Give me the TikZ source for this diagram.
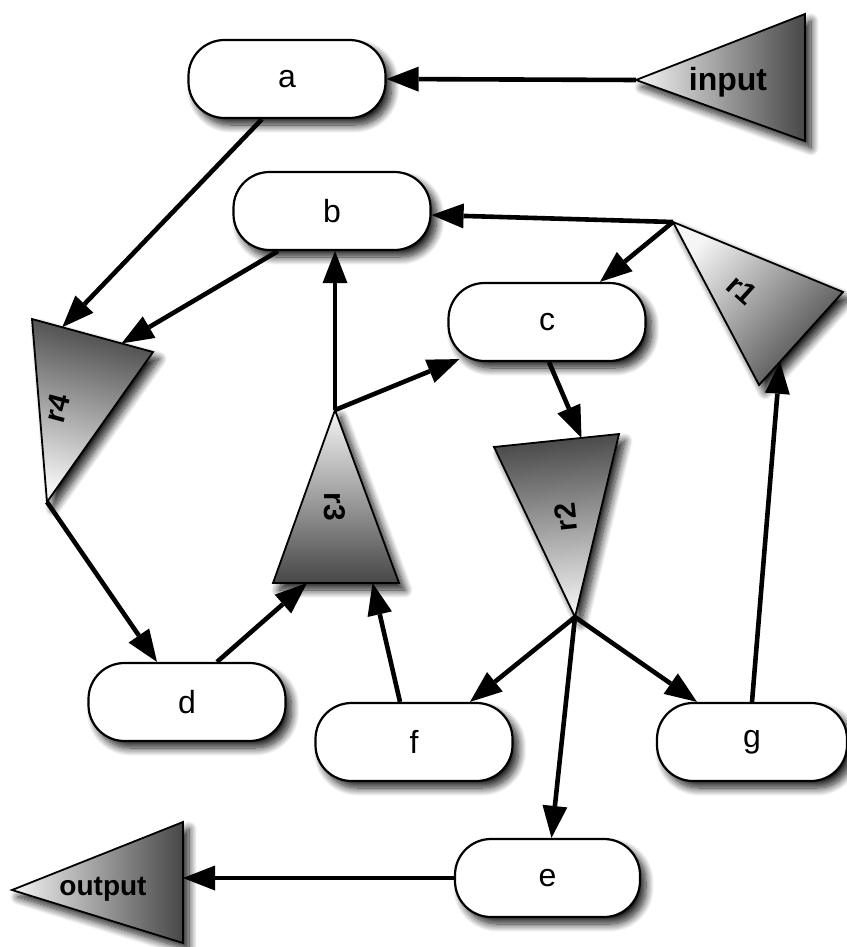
\documentclass[tikz,border=0pt]{standalone}
\usepackage{fontspec}
\setmainfont{Liberation Sans}
\usetikzlibrary{arrows.meta,calc,shadows.blur}
\tikzset{
  shad/.style={blur shadow={shadow xshift=6pt, shadow yshift=-7pt, shadow blur radius=8pt, shadow blur steps=14, shadow opacity=90}},
  box/.style={draw, line width=2.2pt, fill=white, rounded corners=36pt, minimum width=197pt, minimum height=78pt, inner sep=0pt, font=\fontsize{32}{36}\selectfont, shad},
  tri/.style={draw, line width=1.8pt, line join=miter, top color=black!72, bottom color=white!96!black, shad},
  trilabel/.style={font=\bfseries\fontsize{30}{34}\selectfont, inner sep=0pt},
  conn/.style={line width=4.6pt, -{Triangle[length=32pt,width=25pt,fill=black,line width=0pt]}},
}
\begin{document}
\begin{tikzpicture}[x=1pt,y=-1pt]
\useasboundingbox (0,0) rectangle (846,947);
% triangle vertices
\coordinate (inT) at (636,80);  \coordinate (inA) at (805,14);  \coordinate (inB) at (805,141);
\coordinate (outT) at (12,890); \coordinate (outA) at (183,822); \coordinate (outB) at (183,943);
\coordinate (r1T) at (673,222); \coordinate (r1A) at (843,292); \coordinate (r1B) at (759,385);
\coordinate (r2T) at (575,617); \coordinate (r2A) at (494,447); \coordinate (r2B) at (619,434);
\coordinate (r3T) at (335,410); \coordinate (r3A) at (273,583); \coordinate (r3B) at (399,583);
\coordinate (r4T) at (47,502);  \coordinate (r4A) at (32,319);  \coordinate (r4B) at (153,352);
% triangles
\path[tri, shading angle=-90]  (inT) -- (inA) -- (inB) -- cycle;
\path[tri, shading angle=-90]  (outT) -- (outA) -- (outB) -- cycle;
\path[tri, shading angle=-132] (r1T) -- (r1A) -- (r1B) -- cycle;
\path[tri, shading angle=6]    (r2T) -- (r2A) -- (r2B) -- cycle;
\path[tri, shading angle=-180] (r3T) -- (r3A) -- (r3B) -- cycle;
\path[tri, shading angle=-15]  (r4T) -- (r4A) -- (r4B) -- cycle;
\node[trilabel, font=\bfseries\fontsize{32}{36}\selectfont] (inL) at (728,82) {input};
\node[trilabel, font=\bfseries\fontsize{28}{32}\selectfont] (outL) at (103,889) {output};
\node[trilabel, rotate=-42] (r1L) at (742,290) {r1};
\node[trilabel, rotate=96] (r2L) at (566,517) {r2};
\node[trilabel, rotate=-90] (r3L) at (335,507) {r3};
\node[trilabel, rotate=75] (r4L) at (57,408) {r4};
% boxes
\node[box] (a) at (287,79) {a};
\node[box] (b) at (332,211) {b};
\node[box] (c) at (547,322) {c};
\node[box] (d) at (187,702) {d};
\node[box] (f) at (414,742) {f};
\node[box, minimum width=190pt] (g) at (752,742) {g};
\node[box, minimum width=185pt] (e) at (547.5,878) {e};
% connectors
\draw[conn] (inT) -- (a.east);
\draw[conn] ($(a.south)+(-25,0)$) -- ($(r4A)!0.25!(r4B)$);
\draw[conn] ($(b.south)+(-54,0)$) -- ($(r4A)!0.74!(r4B)$);
\draw[conn] (r4T) -- ($(d.north)+(-30,0)$);
\draw[conn] ($(d.north)+(30,0)$) -- ($(r3A)!0.27!(r3B)$);
\draw[conn] ($(f.north)+(-14,0)$) -- ($(r3A)!0.79!(r3B)$);
\draw[conn] (r3T) -- (r3T |- b.south);
\draw[conn] (r3T) -- ($(c.south west)+(12,-3)$);
\draw[conn] (r1T) -- ($(b.east)+(0,4)$);
\draw[conn] (r1T) -- ($(c.north)+(53,0)$);
\draw[conn] ($(c.south)+(2,0)$) -- ($(r2A)!0.7!(r2B)$);
\draw[conn] (r2T) -- ($(f.north)+(56,0)$);
\draw[conn] (r2T) -- ($(g.north)+(-55,0)$);
\draw[conn] (r2T) -- ($(e.north)+(4,0)$);
\draw[conn] (g.north) -- ($(r1B)!0.25!(r1A)$);
\draw[conn] (e.west) -- (e.west -| outA);
\end{tikzpicture}
\end{document}
